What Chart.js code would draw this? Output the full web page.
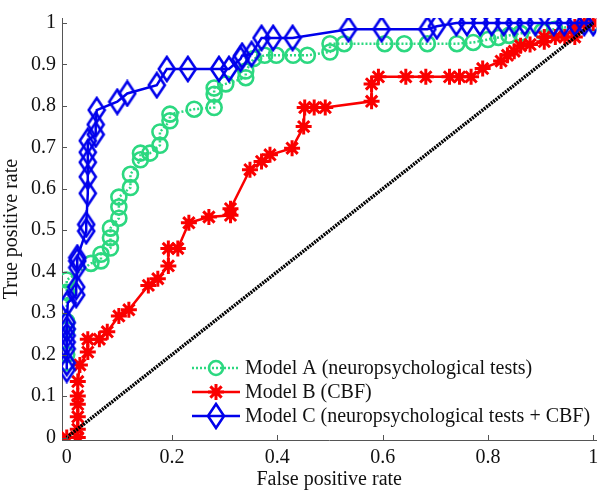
<!DOCTYPE html>
<html lang="en">
<head>
    <meta charset="UTF-8">
    <title>ROC curves</title>
    <script src="https://cdn.jsdelivr.net/npm/chart.js@4.4.1/dist/chart.umd.min.js"></script>
    <style>
        body {
            margin: 0;
            background: #ffffff;
        }
        #roc {
            display: block;
        }
    </style>
</head>
<body>
    <canvas id="roc" width="609" height="494"></canvas>

    <script>
        // Model A (neuropsychological tests)
        const fprA = [0, 0, 0, 0, 0, 0, 0.046, 0.065, 0.065, 0.083, 0.083, 0.083, 0.099, 0.099, 0.099,
            0.121, 0.121, 0.14, 0.14, 0.158, 0.177, 0.177, 0.196, 0.196, 0.242, 0.28, 0.28, 0.28, 0.302,
            0.34, 0.34, 0.355, 0.376, 0.398, 0.43, 0.457, 0.5, 0.5, 0.527, 0.604, 0.641, 0.685, 0.741,
            0.772, 0.8, 0.82, 0.84, 0.862, 0.903, 0.927, 1];
        const tprA = [0.18, 0.2, 0.26, 0.28, 0.35, 0.38, 0.42, 0.426, 0.442, 0.457, 0.482, 0.505, 0.529, 0.556, 0.58,
            0.603, 0.635, 0.67, 0.686, 0.686, 0.705, 0.737, 0.764, 0.78, 0.792, 0.796, 0.828, 0.843, 0.853,
            0.868, 0.884, 0.914, 0.922, 0.922, 0.922, 0.922, 0.93, 0.95, 0.95, 0.95, 0.95, 0.95, 0.95,
            0.953, 0.96, 0.965, 0.97, 0.975, 0.98, 0.985, 1];

        // Model B (CBF)
        const fprB = [0, 0.021, 0.021, 0.021, 0.021, 0.021, 0.021, 0.025, 0.04, 0.04, 0.062, 0.077, 0.099, 0.118,
            0.155, 0.173, 0.193, 0.193, 0.211, 0.232, 0.27, 0.311, 0.311, 0.348, 0.37, 0.386, 0.428, 0.45,
            0.452, 0.47, 0.491, 0.579, 0.579, 0.592, 0.644, 0.682, 0.727, 0.746, 0.768, 0.79, 0.825, 0.837,
            0.85, 0.862, 0.88, 0.907, 0.907, 0.928, 0.946, 0.965, 0.965, 0.983, 1];
        const tprB = [0, 0, 0.02, 0.05, 0.08, 0.1, 0.135, 0.175, 0.206, 0.237, 0.237, 0.255, 0.293, 0.308,
            0.367, 0.383, 0.414, 0.456, 0.456, 0.518, 0.532, 0.536, 0.552, 0.646, 0.666, 0.682, 0.698, 0.75,
            0.796, 0.796, 0.796, 0.811, 0.853, 0.87, 0.87, 0.87, 0.87, 0.87, 0.87, 0.89, 0.908, 0.922,
            0.932, 0.945, 0.948, 0.955, 0.966, 0.966, 0.966, 0.966, 0.99, 1, 1];

        // Model C (neuropsychological tests + CBF)
        const fprC = [0, 0, 0, 0, 0, 0, 0, 0.002, 0.018, 0.018, 0.02, 0.02, 0.02, 0.037, 0.037, 0.04, 0.04,
            0.04, 0.04, 0.04, 0.055, 0.055, 0.057, 0.096, 0.115, 0.171, 0.19, 0.23, 0.289, 0.308, 0.33,
            0.333, 0.351, 0.37, 0.392, 0.429, 0.535, 0.598, 0.685, 0.703, 0.74, 0.76, 0.785, 0.807, 0.83,
            0.85, 0.87, 0.89, 0.925, 0.945, 0.965, 0.983, 1];
        const tprC = [0.164, 0.18, 0.214, 0.23, 0.246, 0.262, 0.277, 0.325, 0.344, 0.363, 0.41, 0.426, 0.434,
            0.498, 0.514, 0.589, 0.629, 0.664, 0.688, 0.716, 0.731, 0.755, 0.79, 0.81, 0.83, 0.85, 0.889,
            0.889, 0.889, 0.889, 0.913, 0.921, 0.925, 0.964, 0.964, 0.964, 0.985, 0.985, 0.985, 0.992, 1,
            1, 1, 1, 1, 1, 1, 1, 1, 1, 1, 1, 1];

        // chance line
        const diagX = [0, 1];
        const diagY = [0, 1];

        const xTicks = [0, 0.2, 0.4, 0.6, 0.8, 1];
        const yTicks = [0, 0.1, 0.2, 0.3, 0.4, 0.5, 0.6, 0.7, 0.8, 0.9, 1];

        const GREEN = 'rgb(44, 216, 128)';
        const RED = 'rgb(250, 0, 0)';
        const BLUE = 'rgb(0, 0, 235)';
        const FONT = "'Liberation Serif', 'Times New Roman', serif";

        function toPoints(xs, ys) {
            return xs.map((x, i) => ({ x: x, y: ys[i] }));
        }

        // matlab style diamond, a bit taller than wide
        function makeDiamond(color) {
            const c = document.createElement('canvas');
            c.width = 20;
            c.height = 28;
            const g = c.getContext('2d');
            g.strokeStyle = color;
            g.lineWidth = 2.6;
            g.lineJoin = 'miter';
            g.beginPath();
            g.moveTo(10, 2);
            g.lineTo(18, 14);
            g.lineTo(10, 26);
            g.lineTo(2, 14);
            g.closePath();
            g.stroke();
            return c;
        }
        const diamond = makeDiamond(BLUE);

        // inward tick marks like matlab
        const innerTicks = {
            id: 'innerTicks',
            afterDraw(chart) {
                const ctx = chart.ctx;
                const area = chart.chartArea;
                const xs = chart.scales.x, ys = chart.scales.y;
                ctx.save();
                ctx.strokeStyle = '#555';
                ctx.lineWidth = 1;
                ctx.beginPath();
                xTicks.forEach(v => {
                    const px = Math.round(xs.getPixelForValue(v)) + 0.5;
                    ctx.moveTo(px, area.bottom);
                    ctx.lineTo(px, area.bottom - 5);
                });
                yTicks.forEach(v => {
                    const py = Math.round(ys.getPixelForValue(v)) + 0.5;
                    ctx.moveTo(area.left, py);
                    ctx.lineTo(area.left + 5, py);
                });
                ctx.stroke();
                ctx.restore();
            }
        };

        // legend drawn inside the plot, line + marker + text
        const insideLegend = {
            id: 'insideLegend',
            afterDraw(chart) {
                const ctx = chart.ctx;
                const area = chart.chartArea;
                const x0 = area.left + 130;
                const x1 = x0 + 48;
                const xm = (x0 + x1) / 2;
                const items = chart.data.datasets.filter(d => d.label);
                ctx.save();
                items.forEach((d, i) => {
                    const y = area.bottom - 72 + i * 24;
                    ctx.strokeStyle = d.borderColor;
                    ctx.lineWidth = d.borderWidth;
                    ctx.setLineDash(d.borderDash || []);
                    ctx.beginPath();
                    ctx.moveTo(x0, y);
                    ctx.lineTo(x1, y);
                    ctx.stroke();
                    ctx.setLineDash([]);
                    ctx.lineWidth = d.pointBorderWidth;
                    ctx.strokeStyle = d.pointBorderColor;
                    if (d.pointStyle === 'circle') {
                        ctx.beginPath();
                        ctx.arc(xm, y, d.pointRadius - 0.5, 0, Math.PI * 2);
                        ctx.stroke();
                    } else if (d.pointStyle === 'star') {
                        const r = d.pointRadius;
                        ctx.beginPath();
                        for (let k = 0; k < 4; k++) {
                            const a = k * Math.PI / 4;
                            ctx.moveTo(xm - r * Math.cos(a), y - r * Math.sin(a));
                            ctx.lineTo(xm + r * Math.cos(a), y + r * Math.sin(a));
                        }
                        ctx.stroke();
                    } else {
                        ctx.drawImage(d.pointStyle, xm - 10, y - 14);
                    }
                    ctx.fillStyle = '#111';
                    ctx.font = '20px ' + FONT;
                    ctx.textBaseline = 'middle';
                    ctx.fillText(d.label, x1 + 5, y + 1);
                });
                ctx.restore();
            }
        };

        const ctx = document.getElementById('roc').getContext('2d');
        new Chart(ctx, {
            type: 'scatter',
            data: {
                datasets: [
                    {
                        label: '',
                        data: toPoints(diagX, diagY),
                        showLine: true,
                        borderColor: '#000',
                        borderWidth: 3.5,
                        borderDash: [2, 1],
                        pointRadius: 0,
                        order: 0
                    },
                    {
                        label: 'Model A (neuropsychological tests)',
                        data: toPoints(fprA, tprA),
                        showLine: true,
                        borderColor: GREEN,
                        borderWidth: 2.5,
                        borderDash: [2, 2],
                        pointStyle: 'circle',
                        pointRadius: 7.5,
                        pointBorderWidth: 2.6,
                        pointBorderColor: GREEN,
                        pointBackgroundColor: 'rgba(0,0,0,0)',
                        order: 3
                    },
                    {
                        label: 'Model B (CBF)',
                        data: toPoints(fprB, tprB),
                        showLine: true,
                        borderColor: RED,
                        borderWidth: 2.5,
                        pointStyle: 'star',
                        pointRadius: 8,
                        pointBorderWidth: 3,
                        pointBorderColor: RED,
                        pointBackgroundColor: RED,
                        order: 2
                    },
                    {
                        label: 'Model C (neuropsychological tests + CBF)',
                        data: toPoints(fprC, tprC),
                        showLine: true,
                        borderColor: BLUE,
                        borderWidth: 2.5,
                        pointStyle: diamond,
                        pointRadius: 10,
                        pointBorderWidth: 2.6,
                        pointBorderColor: BLUE,
                        order: 1
                    }
                ]
            },
            options: {
                responsive: false,
                animation: false,
                events: [],
                layout: {
                    padding: { top: 10, right: 4, left: 0, bottom: 0 }
                },
                plugins: {
                    legend: { display: false },
                    tooltip: { enabled: false }
                },
                scales: {
                    x: {
                        type: 'linear',
                        min: -0.009,
                        max: 1.006,
                        afterFit: s => { s.height = 54; },
                        afterBuildTicks: s => { s.ticks = xTicks.map(v => ({ value: v })); },
                        grid: { display: false, drawTicks: false },
                        border: { display: true, color: '#555', width: 1 },
                        ticks: {
                            padding: 6,
                            color: '#111',
                            font: { family: FONT, size: 20 },
                            maxRotation: 0,
                            callback: v => String(v)
                        },
                        title: {
                            display: true,
                            text: 'False positive rate',
                            color: '#111',
                            font: { family: FONT, size: 20 },
                            padding: { top: 0, bottom: 2 }
                        }
                    },
                    y: {
                        type: 'linear',
                        min: -0.006,
                        max: 1.012,
                        afterFit: s => { s.width = 62; },
                        afterBuildTicks: s => { s.ticks = yTicks.map(v => ({ value: v })); },
                        grid: { display: false, drawTicks: false },
                        border: { display: true, color: '#555', width: 1 },
                        ticks: {
                            padding: 6,
                            color: '#111',
                            font: { family: FONT, size: 20 },
                            callback: v => String(v)
                        },
                        title: {
                            display: true,
                            text: 'True positive rate',
                            color: '#111',
                            font: { family: FONT, size: 20 },
                            padding: { top: 0, bottom: 0 }
                        }
                    }
                }
            },
            plugins: [innerTicks, insideLegend]
        });
    </script>
</body>
</html>
